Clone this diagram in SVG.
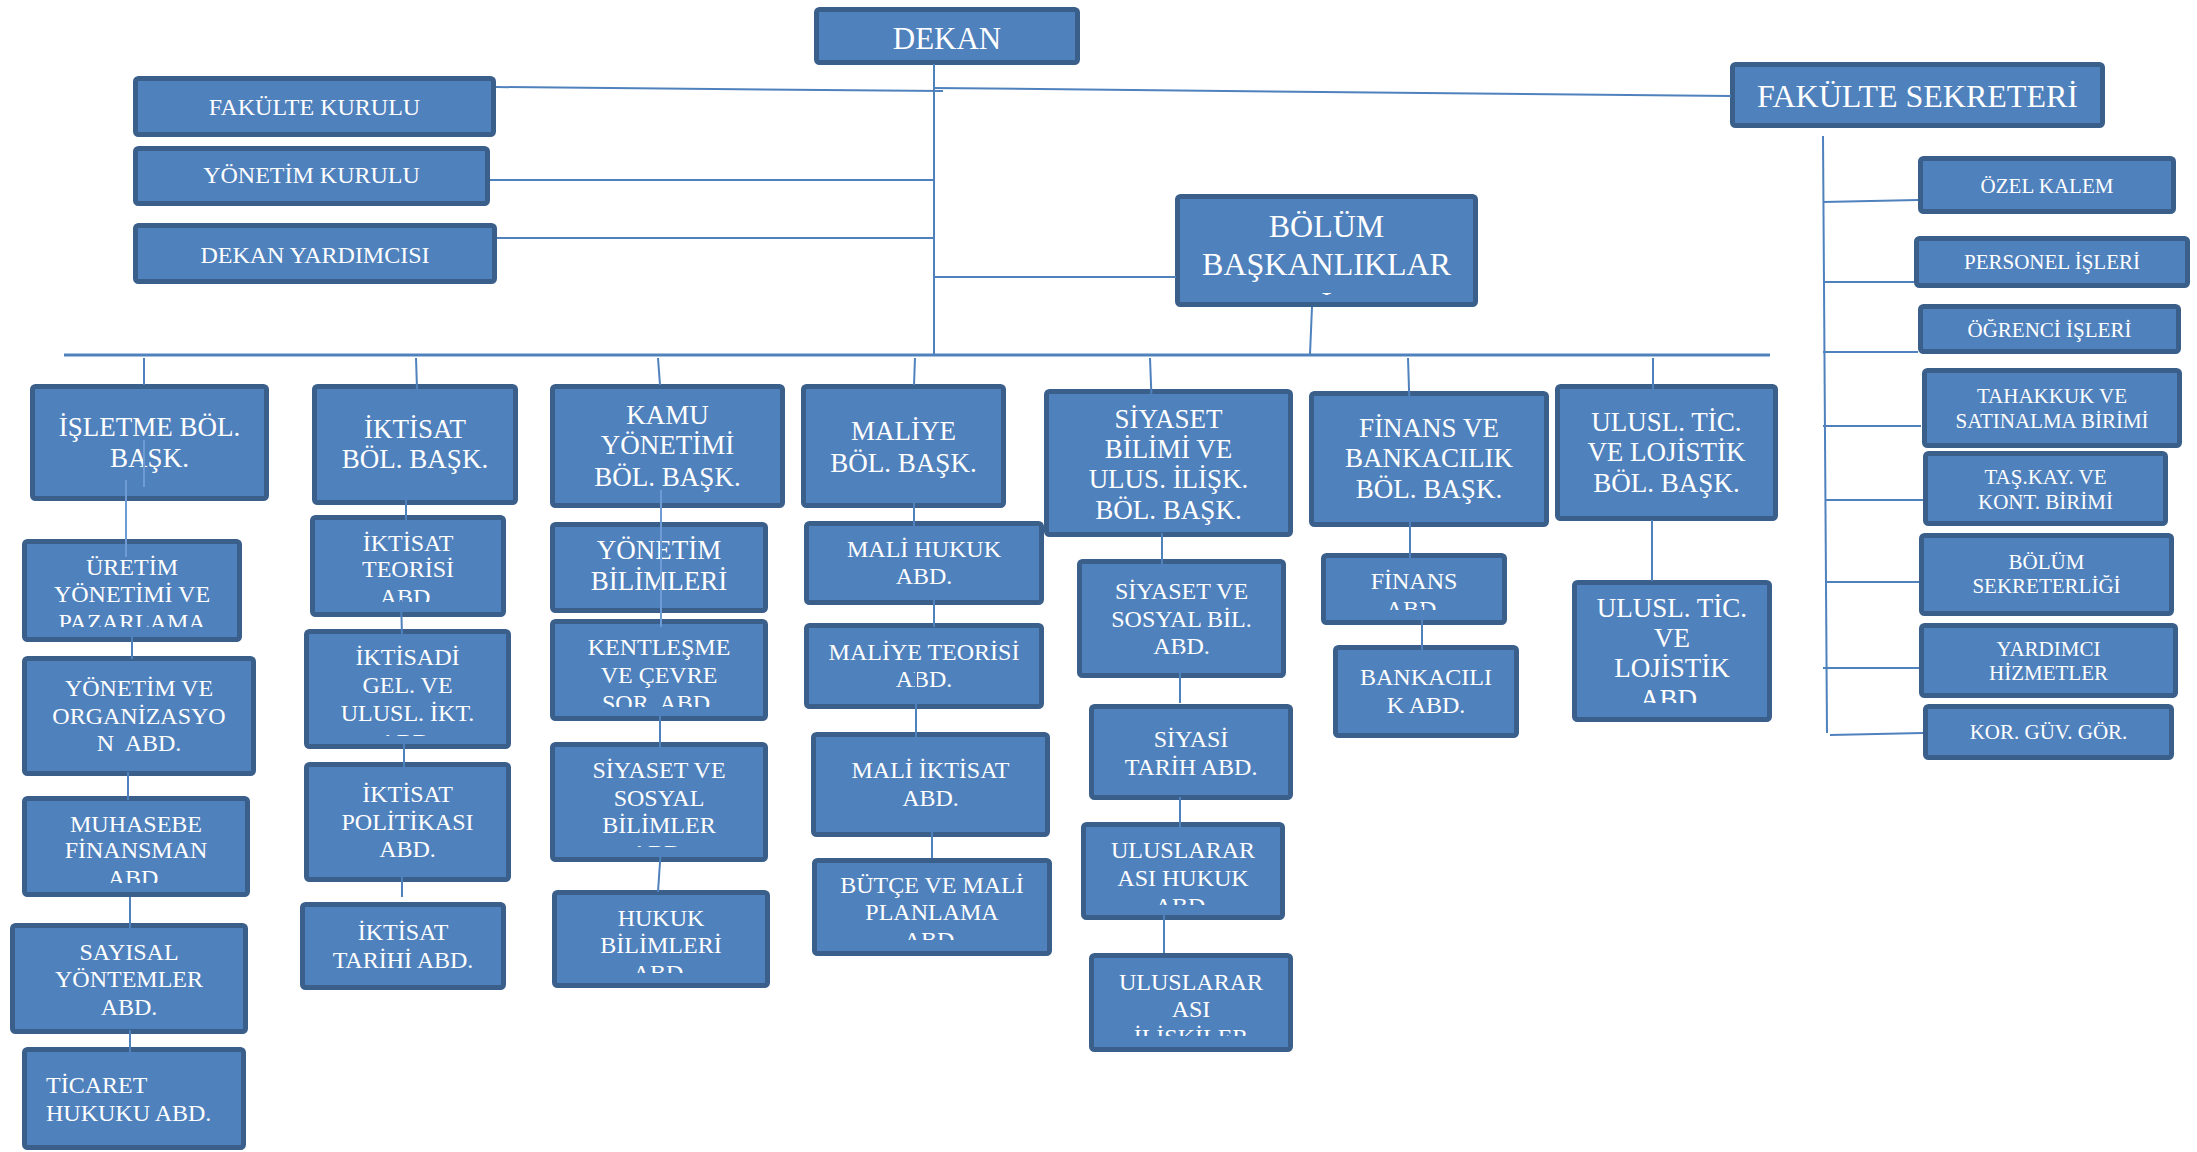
<svg xmlns="http://www.w3.org/2000/svg" width="2197" height="1152" viewBox="0 0 2197 1152">
<style>
.box{fill:#4F81BD;stroke:#3A5F8B;stroke-width:5}
text{font-family:"Liberation Serif","Times New Roman",serif;fill:#FFFFFF;text-anchor:middle}
.f21{font-size:21px}.f24{font-size:24px}.f27{font-size:27px}.f31{font-size:31px}.f32{font-size:32px}
.conn line{stroke:#4F81BD;stroke-width:2;fill:none}
.conn .in{stroke:#6E9BD3}
.conn .main{stroke-width:3}
</style>
<defs>
<clipPath id="cp-bolum"><rect x="1175" y="194" width="303" height="101"/></clipPath>
<clipPath id="cp-uretim"><rect x="22" y="539" width="220" height="88"/></clipPath>
<clipPath id="cp-muhasebe"><rect x="22" y="796" width="228" height="87"/></clipPath>
<clipPath id="cp-teori"><rect x="310" y="515" width="196" height="87"/></clipPath>
<clipPath id="cp-iktisadi"><rect x="304" y="629" width="207" height="107"/></clipPath>
<clipPath id="cp-kent"><rect x="550" y="619" width="218" height="88"/></clipPath>
<clipPath id="cp-ssb"><rect x="550" y="742" width="218" height="105"/></clipPath>
<clipPath id="cp-hukuk"><rect x="552" y="890" width="218" height="83"/></clipPath>
<clipPath id="cp-butce"><rect x="812" y="858" width="240" height="82"/></clipPath>
<clipPath id="cp-uh"><rect x="1081" y="822" width="204" height="83"/></clipPath>
<clipPath id="cp-ui"><rect x="1089" y="953" width="204" height="83"/></clipPath>
<clipPath id="cp-fin"><rect x="1321" y="553" width="186" height="57"/></clipPath>
<clipPath id="cp-ulabd"><rect x="1572" y="580" width="200" height="123"/></clipPath>
</defs>
<rect x="0" y="0" width="2197" height="1152" fill="#FFFFFF"/>

<g id="nodes">
<g id="dekan"><rect class="box" x="816.5" y="9.5" width="261" height="53" rx="3"/><text class="f31" x="947" y="49">DEKAN</text></g>
<g id="fakulte-kurulu"><rect class="box" x="135.5" y="78.5" width="358" height="56" rx="3"/><text class="f24" x="314.5" y="115">FAKÜLTE KURULU</text></g>
<g id="yonetim-kurulu"><rect class="box" x="135.5" y="148.5" width="352" height="55" rx="3"/><text class="f24" x="311.5" y="183">YÖNETİM KURULU</text></g>
<g id="dekan-yardimcisi"><rect class="box" x="135.5" y="225.5" width="359" height="56" rx="3"/><text class="f24" x="315" y="263">DEKAN YARDIMCISI</text></g>
<g id="bolum-baskanliklar"><rect class="box" x="1177.5" y="196.5" width="298" height="108" rx="3"/><text class="f32" x="1326.5"><tspan x="1326.5" y="237">BÖLÜM</tspan><tspan x="1326.5" y="275">BAŞKANLIKLAR</tspan></text><text class="f32" x="1326.5" y="314" clip-path="url(#cp-bolum)">I</text></g>
<g id="fakulte-sekreteri"><rect class="box" x="1732.5" y="64.5" width="370" height="61" rx="3"/><text class="f32" x="1917.5" y="107">FAKÜLTE SEKRETERİ</text></g>
<g id="ozel-kalem"><rect class="box" x="1920.5" y="158.5" width="253" height="53" rx="3"/><text class="f21" x="2047" y="193">ÖZEL KALEM</text></g>
<g id="personel-isleri"><rect class="box" x="1916.5" y="238.5" width="271" height="47" rx="3"/><text class="f21" x="2052" y="269">PERSONEL İŞLERİ</text></g>
<g id="ogrenci-isleri"><rect class="box" x="1920.5" y="306.5" width="258" height="45" rx="3"/><text class="f21" x="2049.5" y="337">ÖĞRENCİ İŞLERİ</text></g>
<g id="tahakkuk"><rect class="box" x="1924.5" y="370.5" width="255" height="75" rx="3"/><text class="f21"><tspan x="2052" y="403">TAHAKKUK VE</tspan><tspan x="2052" y="428">SATINALMA BİRİMİ</tspan></text></g>
<g id="tas-kay"><rect class="box" x="1925.5" y="453.5" width="240" height="70" rx="3"/><text class="f21"><tspan x="2045.5" y="484">TAŞ.KAY. VE</tspan><tspan x="2045.5" y="509">KONT. BİRİMİ</tspan></text></g>
<g id="bolum-sekreterligi"><rect class="box" x="1921.5" y="535.5" width="250" height="78" rx="3"/><text class="f21"><tspan x="2046.5" y="569">BÖLÜM</tspan><tspan x="2046.5" y="593">SEKRETERLİĞİ</tspan></text></g>
<g id="yardimci-hizmetler"><rect class="box" x="1921.5" y="625.5" width="254" height="70" rx="3"/><text class="f21"><tspan x="2048.5" y="656">YARDIMCI</tspan><tspan x="2048.5" y="680">HİZMETLER</tspan></text></g>
<g id="kor-guv-gor"><rect class="box" x="1925.5" y="706.5" width="246" height="51" rx="3"/><text class="f21" x="2048.5" y="739">KOR. GÜV. GÖR.</text></g>

<g id="isletme-bol"><rect class="box" x="32.5" y="386.5" width="234" height="112" rx="3"/><text class="f27"><tspan x="149.5" y="436">İŞLETME BÖL.</tspan><tspan x="149.5" y="467">BAŞK.</tspan></text></g>
<g id="uretim"><rect class="box" x="24.5" y="541.5" width="215" height="98" rx="3"/><text class="f24" clip-path="url(#cp-uretim)"><tspan x="132" y="575">ÜRETİM</tspan><tspan x="132" y="602">YÖNETİMİ VE</tspan><tspan x="132" y="630">PAZARLAMA</tspan></text></g>
<g id="yonetim-organizasyon"><rect class="box" x="24.5" y="658.5" width="229" height="115" rx="3"/><text class="f24" xml:space="preserve"><tspan x="139" y="696">YÖNETİM VE</tspan><tspan x="139" y="724">ORGANİZASYO</tspan><tspan x="139" y="751">N  ABD.</tspan></text></g>
<g id="muhasebe"><rect class="box" x="24.5" y="798.5" width="223" height="96" rx="3"/><text class="f24" clip-path="url(#cp-muhasebe)"><tspan x="136" y="832">MUHASEBE</tspan><tspan x="136" y="858">FİNANSMAN</tspan><tspan x="136" y="886">ABD.</tspan></text></g>
<g id="sayisal"><rect class="box" x="12.5" y="925.5" width="233" height="106" rx="3"/><text class="f24"><tspan x="129" y="960">SAYISAL</tspan><tspan x="129" y="987">YÖNTEMLER</tspan><tspan x="129" y="1015">ABD.</tspan></text></g>
<g id="ticaret"><rect class="box" x="24.5" y="1049.5" width="219" height="98" rx="3"/><text class="f24" style="text-anchor:start"><tspan x="46" y="1093">TİCARET</tspan><tspan x="46" y="1121">HUKUKU ABD.</tspan></text></g>

<g id="iktisat-bol"><rect class="box" x="314.5" y="386.5" width="201" height="116" rx="3"/><text class="f27"><tspan x="415" y="438">İKTİSAT</tspan><tspan x="415" y="468">BÖL. BAŞK.</tspan></text></g>
<g id="iktisat-teorisi"><rect class="box" x="312.5" y="517.5" width="191" height="97" rx="3"/><text class="f24" clip-path="url(#cp-teori)"><tspan x="408" y="551">İKTİSAT</tspan><tspan x="408" y="577">TEORİSİ</tspan><tspan x="408" y="605">ABD.</tspan></text></g>
<g id="iktisadi-gel"><rect class="box" x="306.5" y="631.5" width="202" height="115" rx="3"/><text class="f24" clip-path="url(#cp-iktisadi)"><tspan x="407.5" y="665">İKTİSADİ</tspan><tspan x="407.5" y="693">GEL. VE</tspan><tspan x="407.5" y="721">ULUSL. İKT.</tspan><tspan x="407.5" y="750">ABD.</tspan></text></g>
<g id="iktisat-politikasi"><rect class="box" x="306.5" y="764.5" width="202" height="115" rx="3"/><text class="f24"><tspan x="407.5" y="802">İKTİSAT</tspan><tspan x="407.5" y="830">POLİTİKASI</tspan><tspan x="407.5" y="857">ABD.</tspan></text></g>
<g id="iktisat-tarihi"><rect class="box" x="302.5" y="904.5" width="201" height="83" rx="3"/><text class="f24"><tspan x="403" y="940">İKTİSAT</tspan><tspan x="403" y="968">TARİHİ ABD.</tspan></text></g>

<g id="kamu-bol"><rect class="box" x="552.5" y="386.5" width="230" height="119" rx="3"/><text class="f27"><tspan x="667.5" y="424">KAMU</tspan><tspan x="667.5" y="454">YÖNETİMİ</tspan><tspan x="667.5" y="486">BÖL. BAŞK.</tspan></text></g>
<g id="yonetim-bilimleri"><rect class="box" x="552.5" y="524.5" width="213" height="86" rx="3"/><text class="f27"><tspan x="659" y="559">YÖNETİM</tspan><tspan x="659" y="590">BİLİMLERİ</tspan></text></g>
<g id="kentlesme"><rect class="box" x="552.5" y="621.5" width="213" height="97" rx="3"/><text class="f24" clip-path="url(#cp-kent)"><tspan x="659" y="655">KENTLEŞME</tspan><tspan x="659" y="683">VE ÇEVRE</tspan><tspan x="659" y="711">SOR. ABD.</tspan></text></g>
<g id="siyaset-sosyal-bilimler"><rect class="box" x="552.5" y="744.5" width="213" height="115" rx="3"/><text class="f24" clip-path="url(#cp-ssb)"><tspan x="659" y="778">SİYASET VE</tspan><tspan x="659" y="806">SOSYAL</tspan><tspan x="659" y="833">BİLİMLER</tspan><tspan x="659" y="861">ABD.</tspan></text></g>
<g id="hukuk-bilimleri"><rect class="box" x="554.5" y="892.5" width="213" height="93" rx="3"/><text class="f24" clip-path="url(#cp-hukuk)"><tspan x="661" y="926">HUKUK</tspan><tspan x="661" y="953">BİLİMLERİ</tspan><tspan x="661" y="981">ABD.</tspan></text></g>

<g id="maliye-bol"><rect class="box" x="803.5" y="386.5" width="200" height="119" rx="3"/><text class="f27"><tspan x="903.5" y="440">MALİYE</tspan><tspan x="903.5" y="472">BÖL. BAŞK.</tspan></text></g>
<g id="mali-hukuk"><rect class="box" x="806.5" y="523.5" width="235" height="79" rx="3"/><text class="f24"><tspan x="924" y="557">MALİ HUKUK</tspan><tspan x="924" y="584">ABD.</tspan></text></g>
<g id="maliye-teorisi"><rect class="box" x="806.5" y="625.5" width="235" height="81" rx="3"/><text class="f24"><tspan x="924" y="660">MALİYE TEORİSİ</tspan><tspan x="924" y="687">ABD.</tspan></text></g>
<g id="mali-iktisat"><rect class="box" x="813.5" y="734.5" width="234" height="100" rx="3"/><text class="f24"><tspan x="930.5" y="778">MALİ İKTİSAT</tspan><tspan x="930.5" y="806">ABD.</tspan></text></g>
<g id="butce"><rect class="box" x="814.5" y="860.5" width="235" height="93" rx="3"/><text class="f24" clip-path="url(#cp-butce)"><tspan x="932" y="893">BÜTÇE VE MALİ</tspan><tspan x="932" y="920">PLANLAMA</tspan><tspan x="932" y="948">ABD.</tspan></text></g>

<g id="siyaset-bol"><rect class="box" x="1046.5" y="391.5" width="244" height="143" rx="3"/><text class="f27"><tspan x="1168.5" y="428">SİYASET</tspan><tspan x="1168.5" y="458">BİLİMİ VE</tspan><tspan x="1168.5" y="488">ULUS. İLİŞK.</tspan><tspan x="1168.5" y="519">BÖL. BAŞK.</tspan></text></g>
<g id="siyaset-sosyal-bil"><rect class="box" x="1079.5" y="561.5" width="204" height="114" rx="3"/><text class="f24"><tspan x="1181.5" y="599">SİYASET VE</tspan><tspan x="1181.5" y="627">SOSYAL BİL.</tspan><tspan x="1181.5" y="654">ABD.</tspan></text></g>
<g id="siyasi-tarih"><rect class="box" x="1091.5" y="706.5" width="199" height="91" rx="3"/><text class="f24"><tspan x="1191" y="747">SİYASİ</tspan><tspan x="1191" y="775">TARİH ABD.</tspan></text></g>
<g id="uluslararasi-hukuk"><rect class="box" x="1083.5" y="824.5" width="199" height="93" rx="3"/><text class="f24" clip-path="url(#cp-uh)"><tspan x="1183" y="858">ULUSLARAR</tspan><tspan x="1183" y="886">ASI HUKUK</tspan><tspan x="1183" y="914">ABD.</tspan></text></g>
<g id="uluslararasi-iliskiler"><rect class="box" x="1091.5" y="955.5" width="199" height="94" rx="3"/><text class="f24" clip-path="url(#cp-ui)"><tspan x="1191" y="990">ULUSLARAR</tspan><tspan x="1191" y="1017">ASI</tspan><tspan x="1191" y="1045">İLİŞKİLER</tspan></text></g>

<g id="finans-bol"><rect class="box" x="1311.5" y="393.5" width="235" height="131" rx="3"/><text class="f27"><tspan x="1429" y="437">FİNANS VE</tspan><tspan x="1429" y="467">BANKACILIK</tspan><tspan x="1429" y="498">BÖL. BAŞK.</tspan></text></g>
<g id="finans-abd"><rect class="box" x="1323.5" y="555.5" width="181" height="67" rx="3"/><text class="f24" clip-path="url(#cp-fin)"><tspan x="1414" y="589">FİNANS</tspan><tspan x="1414" y="617">ABD.</tspan></text></g>
<g id="bankacilik-abd"><rect class="box" x="1335.5" y="647.5" width="181" height="88" rx="3"/><text class="f24"><tspan x="1426" y="685">BANKACILI</tspan><tspan x="1426" y="713">K ABD.</tspan></text></g>

<g id="ulusl-tic-bol"><rect class="box" x="1557.5" y="386.5" width="218" height="132" rx="3"/><text class="f27"><tspan x="1666.5" y="431">ULUSL. TİC.</tspan><tspan x="1666.5" y="461">VE LOJİSTİK</tspan><tspan x="1666.5" y="492">BÖL. BAŞK.</tspan></text></g>
<g id="ulusl-tic-abd"><rect class="box" x="1574.5" y="582.5" width="195" height="137" rx="3"/><text class="f27" clip-path="url(#cp-ulabd)"><tspan x="1672" y="617">ULUSL. TİC.</tspan><tspan x="1672" y="647">VE</tspan><tspan x="1672" y="677">LOJİSTİK</tspan><tspan x="1672" y="708">ABD.</tspan></text></g>
</g>

<g id="connectors" class="conn">
<line x1="934" y1="64" x2="934" y2="355"/>
<line x1="496" y1="87" x2="943" y2="91"/>
<line x1="933" y1="88" x2="1731" y2="96"/>
<line x1="490" y1="180" x2="934" y2="180"/>
<line x1="497" y1="238" x2="934" y2="238"/>
<line x1="934" y1="277" x2="1176" y2="277"/>
<line x1="1312" y1="307" x2="1310" y2="354"/>
<line class="main" x1="64" y1="355" x2="1770" y2="355"/>

<line x1="144" y1="358" x2="144" y2="385"/>
<line class="in" x1="144" y1="440" x2="144" y2="487"/>
<line class="in" x1="126" y1="480" x2="126" y2="557"/>
<line x1="132" y1="637" x2="132" y2="659"/>
<line x1="128" y1="772" x2="128" y2="800"/>
<line x1="130" y1="897" x2="130" y2="935"/>
<line x1="130" y1="1030" x2="130" y2="1060"/>

<line x1="416" y1="358" x2="418" y2="420"/>
<line x1="406" y1="487" x2="406" y2="523"/>
<line x1="401" y1="600" x2="402" y2="635"/>
<line x1="404" y1="743" x2="404" y2="772"/>
<line x1="402" y1="870" x2="402" y2="897"/>

<line x1="658" y1="358" x2="660" y2="385"/>
<line class="in" x1="661" y1="490" x2="661" y2="627"/>
<line x1="660" y1="707" x2="660" y2="752"/>
<line x1="661" y1="847" x2="658" y2="892"/>

<line x1="915" y1="358" x2="914" y2="385"/>
<line x1="914" y1="497" x2="914" y2="540"/>
<line x1="934" y1="587" x2="934" y2="627"/>
<line x1="916" y1="663" x2="916" y2="737"/>
<line x1="932" y1="807" x2="932" y2="858"/>

<line x1="1150" y1="358" x2="1152" y2="410"/>
<line x1="1162" y1="533" x2="1162" y2="567"/>
<line x1="1180" y1="653" x2="1180" y2="703"/>
<line x1="1180" y1="797" x2="1180" y2="827"/>
<line x1="1164" y1="907" x2="1164" y2="953"/>

<line x1="1408" y1="358" x2="1410" y2="420"/>
<line x1="1410" y1="522" x2="1410" y2="567"/>
<line x1="1422" y1="607" x2="1422" y2="657"/>

<line x1="1653" y1="358" x2="1653" y2="400"/>
<line x1="1652" y1="520" x2="1652" y2="581"/>

<line x1="1823" y1="136" x2="1827" y2="733"/>
<line x1="1823" y1="202" x2="1918" y2="200"/>
<line x1="1823" y1="282" x2="1914" y2="282"/>
<line x1="1823" y1="352" x2="1918" y2="352"/>
<line x1="1823" y1="426" x2="1921" y2="426"/>
<line x1="1825" y1="500" x2="1923" y2="500"/>
<line x1="1825" y1="582" x2="1919" y2="582"/>
<line x1="1823" y1="668" x2="1919" y2="668"/>
<line x1="1830" y1="735" x2="1923" y2="733"/>
</g>
</svg>
